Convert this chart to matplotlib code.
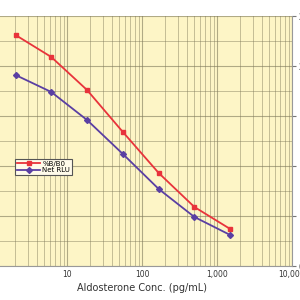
import matplotlib
matplotlib.use("Agg")
import matplotlib.pyplot as plt
import matplotlib.ticker as ticker

# Aldosterone standard curve (right-axis units)
conc = [2.06, 6.17, 18.5, 55.6, 167, 500, 1500]
pct_b_b0 = [231, 209, 176, 134, 93, 59, 37]
net_rlu = [191, 174, 146, 112, 77, 49, 31]
x_ticks = [10, 100, 1000, 10000]
x_tick_labels = ["10", "100", "1,000", "10,000"]
y_ticks = [0, 50, 100, 150, 200, 250]

fig = plt.figure(figsize=(3, 3), dpi=100)
# axis runs from 1 to 10,000; its left part falls outside the picture
ax = fig.add_axes([-8 / 300, 34 / 300, 300 / 300, 250 / 300])
ax.set_facecolor("#FDF5C6")

ax.plot(conc, pct_b_b0, color="#E8333B", lw=1.3, marker="s", ms=3.5, label="%B/B0")
ax.plot(conc, net_rlu, color="#5A3FA3", lw=1.3, marker="D", ms=3, label="Net RLU")

ax.set_xscale("log")
ax.set_xlim(1, 10000)
ax.set_ylim(0, 250)

ax.set_xticks(x_ticks)
ax.set_xticklabels(x_tick_labels)
ax.xaxis.set_minor_locator(ticker.LogLocator(base=10, subs=range(2, 10), numticks=20))
ax.xaxis.set_minor_formatter(ticker.NullFormatter())
ax.yaxis.set_minor_locator(ticker.MultipleLocator(25))

ax.yaxis.tick_right()
ax.set_yticks(y_ticks)
ax.tick_params(axis="y", which="major", labelsize=5.5, length=3, color="#777777",
               labelcolor="#333333", pad=2)
ax.tick_params(axis="y", which="minor", length=0)
ax.tick_params(axis="x", which="major", labelsize=5.5, length=0, labelcolor="#333333", pad=3)
ax.tick_params(axis="x", which="minor", length=0)

ax.grid(True, which="major", color="#7E785A", lw=0.8, alpha=0.6)
ax.grid(True, which="minor", color="#7E785A", lw=0.7, alpha=0.45)

for side in ["top", "left"]:
    ax.spines[side].set_visible(False)
ax.spines["right"].set_color("#999999")
ax.spines["bottom"].set_color("#999999")
ax.spines["right"].set_linewidth(0.8)
ax.spines["bottom"].set_linewidth(0.8)

ax.set_xlabel("Aldosterone Conc. (pg/mL)", fontsize=7, color="#333333", labelpad=3)

leg = ax.legend(loc="upper left", bbox_to_anchor=(23 / 300, 107 / 250), fontsize=5,
                frameon=True, fancybox=False, handlelength=3.4, borderpad=0.25,
                labelspacing=0.1, handletextpad=0.3, borderaxespad=0)
leg.get_frame().set_edgecolor("#555555")
leg.get_frame().set_linewidth(0.8)
leg.get_frame().set_facecolor("#FFFBEA")
leg.get_frame().set_alpha(1)

fig.savefig("out.png", dpi=100)
